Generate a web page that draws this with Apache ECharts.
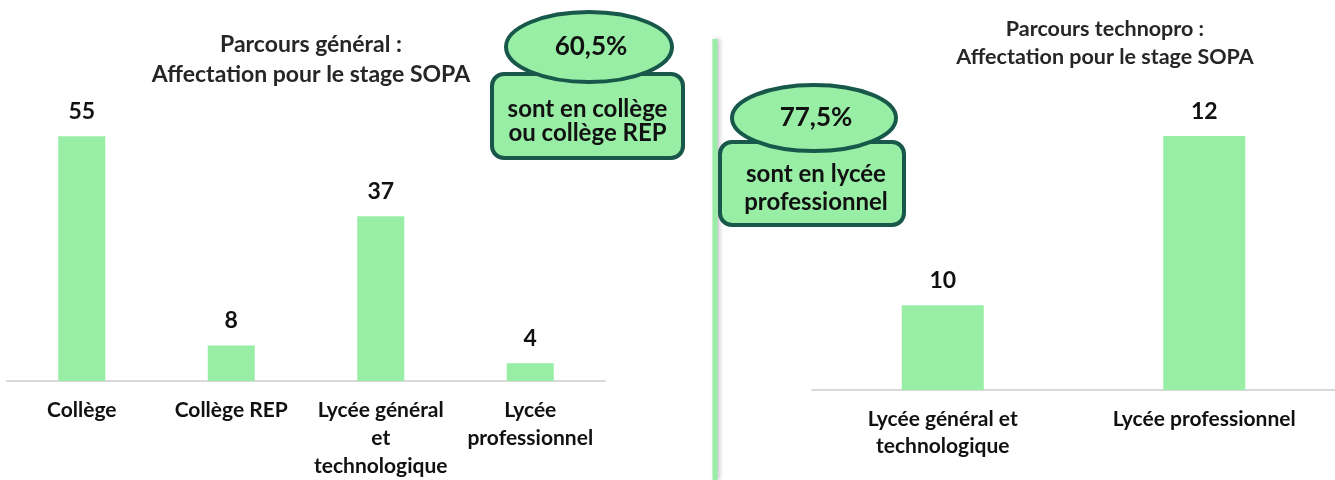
<!DOCTYPE html>
<html lang="fr">
<head>
<meta charset="utf-8">
<title>Affectation pour le stage SOPA</title>
<script src="https://cdn.jsdelivr.net/npm/echarts@6/dist/echarts.min.js"></script>
<style>
    html, body {
        margin: 0;
        padding: 0;
        background: #ffffff;
    }
    #chart {
        width: 1335px;
        height: 480px;
    }
</style>
</head>
<body>
<div id="chart"></div>
<script>
// Parcours général
const generalCategories = ['Collège', 'Collège REP', 'Lycée général\net\ntechnologique', 'Lycée\nprofessionnel'];
const generalValues = [55, 8, 37, 4];

// Parcours technopro
const technoCategories = ['Lycée général et\ntechnologique', 'Lycée professionnel'];
const technoValues = [10, 12];

// Encadrés
const generalShare = '60,5%';
const generalShareText = 'sont en collège\nou collège REP';
const technoShare = '77,5%';
const technoShareText = 'sont en lycée\nprofessionnel';

const BAR_COLOR = '#99eea6';
const BOX_STROKE = '#17584a';
const TEXT_COLOR = '#111111';
const FONT = 'Lato';

// libellés d'axe communs aux deux graphiques
function categoryAxis(gridIndex, data, margin, lineHeight) {
    return {
        type: 'category',
        gridIndex: gridIndex,
        data: data,
        axisTick: {show: false},
        axisLine: {
            lineStyle: {color: '#d9d9d9', width: 2}
        },
        axisLabel: {
            interval: 0,
            margin: margin,
            color: TEXT_COLOR,
            fontFamily: FONT,
            fontWeight: 'bold',
            fontSize: 21,
            lineHeight: lineHeight
        }
    };
}

function barSeries(index, data, barWidth) {
    return {
        type: 'bar',
        xAxisIndex: index,
        yAxisIndex: index,
        data: data,
        barWidth: barWidth,
        itemStyle: {color: BAR_COLOR},
        label: {
            show: true,
            position: 'top',
            distance: 13,
            color: TEXT_COLOR,
            fontFamily: FONT,
            fontWeight: 'bold',
            fontSize: 23
        },
        silent: true
    };
}

// encadré : bulle ovale + rectangle arrondi
function callout(rect, ellipse, share, text, lineHeight, textShift) {
    return {
        type: 'group',
        children: [
            {
                type: 'rect',
                shape: {x: rect.x, y: rect.y, width: rect.w, height: rect.h, r: 12},
                style: {fill: BAR_COLOR, stroke: BOX_STROKE, lineWidth: 4}
            },
            {
                type: 'ellipse',
                shape: {cx: ellipse.cx, cy: ellipse.cy, rx: ellipse.rx, ry: ellipse.ry},
                style: {fill: BAR_COLOR, stroke: BOX_STROKE, lineWidth: 4}
            },
            {
                type: 'text',
                x: ellipse.cx + 2,
                y: ellipse.cy,
                style: {
                    text: share,
                    fill: TEXT_COLOR,
                    font: 'bold 26px ' + FONT,
                    align: 'center',
                    verticalAlign: 'middle'
                }
            },
            {
                type: 'text',
                x: rect.x + rect.w / 2 + textShift,
                y: rect.y + rect.h / 2 + 5,
                style: {
                    text: text,
                    fill: TEXT_COLOR,
                    font: 'bold 24px ' + FONT,
                    lineHeight: lineHeight,
                    align: 'center',
                    verticalAlign: 'middle'
                }
            }
        ]
    };
}

const chart = echarts.init(document.getElementById('chart'));

chart.setOption({
    animation: false,
    backgroundColor: '#ffffff',
    title: [
        {
            text: 'Parcours général :\nAffectation pour le stage SOPA',
            left: 306,
            top: 25,
            textAlign: 'center',
            textStyle: {
                color: '#262626',
                fontFamily: FONT,
                fontWeight: 'bold',
                fontSize: 23,
                lineHeight: 30
            }
        },
        {
            text: 'Parcours technopro :\nAffectation pour le stage SOPA',
            left: 1100,
            top: 10,
            textAlign: 'center',
            textStyle: {
                color: '#262626',
                fontFamily: FONT,
                fontWeight: 'bold',
                fontSize: 21.5,
                lineHeight: 28
            }
        }
    ],
    grid: [
        {left: 7, width: 598, top: 114, bottom: 95},
        {left: 812, width: 534, top: 136, bottom: 90}
    ],
    xAxis: [
        categoryAxis(0, generalCategories, 15, 28),
        categoryAxis(1, technoCategories, 16, 27)
    ],
    yAxis: [
        {type: 'value', gridIndex: 0, min: 0, max: 60, show: false},
        // l'axe du second graphique ne part pas de zéro
        {type: 'value', gridIndex: 1, min: 9, max: 12, show: false}
    ],
    series: [
        barSeries(0, generalValues, 47),
        barSeries(1, technoValues, 82)
    ],
    graphic: [
        // séparateur vertical
        {
            type: 'line',
            shape: {x1: 715, y1: 39, x2: 715, y2: 480},
            style: {
                stroke: BAR_COLOR,
                lineWidth: 5,
                shadowColor: 'rgba(0, 0, 0, 0.25)',
                shadowBlur: 4,
                shadowOffsetX: 2
            }
        },
        callout({x: 492, y: 74, w: 191, h: 84}, {cx: 589, cy: 47, rx: 83, ry: 35},
            generalShare, generalShareText, 24, 0),
        callout({x: 720, y: 142, w: 184, h: 83}, {cx: 814, cy: 118, rx: 82, ry: 33},
            technoShare, technoShareText, 28, 4)
    ]
});
</script>
</body>
</html>
